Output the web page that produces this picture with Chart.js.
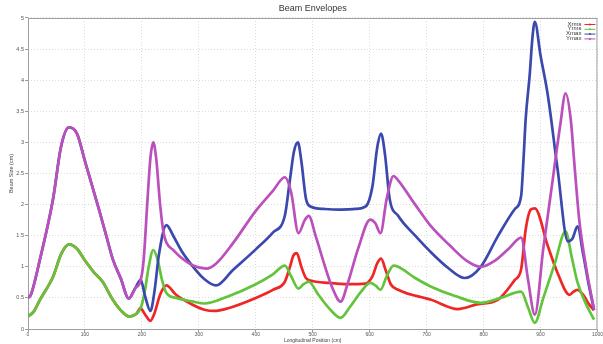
<!DOCTYPE html>
<html><head><meta charset="utf-8">
<script src="https://cdn.jsdelivr.net/npm/chart.js@4/dist/chart.umd.min.js"></script>
<style>html,body{margin:0;padding:0;background:#fff}#wrap{width:603px;height:344px}</style>
</head><body><div id="wrap"><canvas id="c" width="603" height="344"></canvas></div>
<script>
const seriesNames = ["Xrms", "Yrms", "Xmax", "Ymax"];
const xTicks = [0,100,200,300,400,500,600,700,800,900,1000];
const yTicks = [0,0.5,1,1.5,2,2.5,3,3.5,4,4.5,5];

const xrmsZ = [0,10,21,44,58,72,86,100,115,131,149,163,178,190,198,201,208,215,222,232,243,260,289,310,327,350,400,430,451,460,466,472,480,488,496,530,560,593,605,613,620,628,637,650,708,755,790,825,855,866,874,883,890,913,930,951,958,965,975,985,994];
const xrmsV = [0.2,0.28,0.47,0.84,1.2,1.36,1.29,1.1,0.92,0.76,0.47,0.3,0.2,0.24,0.34,0.3,0.2,0.13,0.25,0.55,0.7,0.55,0.39,0.31,0.29,0.33,0.5,0.63,0.76,1.0,1.18,1.22,1.0,0.82,0.78,0.74,0.72,0.73,0.85,1.05,1.13,0.95,0.72,0.63,0.47,0.32,0.4,0.47,0.79,0.96,1.6,1.92,1.94,1.33,0.9,0.55,0.6,0.63,0.55,0.4,0.3];

const yrmsZ = [0,10,21,44,58,72,86,100,115,131,149,163,178,190,198,205,212,220,228,235,243,260,290,310,350,400,430,451,462,475,484,493,510,530,549,565,585,601,610,619,630,642,650,680,708,750,795,830,866,878,890,905,925,944,955,965,980,994];
const yrmsV = [0.2,0.28,0.47,0.84,1.2,1.36,1.29,1.1,0.92,0.76,0.47,0.3,0.2,0.24,0.34,0.6,1.0,1.27,1.1,0.8,0.58,0.5,0.44,0.41,0.52,0.72,0.88,1.02,0.85,0.65,0.72,0.76,0.55,0.32,0.18,0.35,0.6,0.74,0.7,0.63,0.85,1.02,1.0,0.82,0.68,0.53,0.42,0.5,0.6,0.35,0.1,0.5,1.05,1.57,1.15,0.75,0.4,0.15];

const xmaxZ = [0,5,21,44,58,72,86,100,113,126,138,149,163,177,188,198,205,215,222,230,243,255,270,290,310,330,360,400,430,451,460,467,474,480,488,496,520,546,575,593,605,613,620,627,635,650,680,708,738,767,795,825,855,866,870,874,881,886,890,900,913,930,948,956,965,975,985,994];
const xmaxV = [0.5,0.55,1.12,2.09,2.93,3.24,3.14,2.7,2.29,1.88,1.48,1.12,0.81,0.49,0.65,0.79,0.55,0.29,0.6,1.2,1.67,1.5,1.25,1.0,0.8,0.7,0.95,1.28,1.55,1.82,2.4,2.85,3.0,2.7,2.1,1.97,1.93,1.92,1.93,1.97,2.3,2.9,3.14,2.8,2.1,1.82,1.5,1.23,0.98,0.82,1.0,1.49,1.93,2.14,2.7,3.38,4.08,4.7,4.94,4.4,3.75,2.57,1.41,1.45,1.65,1.2,0.7,0.31];

const ymaxZ = [0,5,21,44,58,72,86,100,113,126,138,149,163,177,188,198,203,210,215,220,225,232,238,243,255,266,290,313,330,360,400,430,451,462,475,486,493,505,520,535,549,562,580,601,610,619,630,642,650,680,708,740,770,795,820,845,866,878,890,905,920,935,944,953,960,968,980,994];
const ymaxV = [0.5,0.55,1.12,2.09,2.93,3.24,3.14,2.7,2.29,1.88,1.48,1.12,0.81,0.49,0.65,0.79,1.1,2.1,2.75,3.0,2.75,2.0,1.55,1.39,1.27,1.17,1.02,0.97,1.05,1.38,1.9,2.22,2.44,2.2,1.54,1.75,1.82,1.5,1.05,0.65,0.44,0.75,1.3,1.76,1.7,1.54,2.1,2.46,2.39,2.0,1.65,1.35,1.1,1.0,1.1,1.3,1.47,0.8,0.23,1.3,2.3,3.3,3.79,3.38,2.6,1.76,1.0,0.31];

const colors = ["#f02525", "#62c43a", "#3b48ae", "#bb4fbb"];
const allZ = [xrmsZ, yrmsZ, xmaxZ, ymaxZ];
const allV = [xrmsV, yrmsV, xmaxV, ymaxV];
const drawOrder = [4, 3, 2, 1];

const datasets = seriesNames.map((n, i) => ({
  label: n,
  data: allZ[i].map((z, k) => ({x: z, y: allV[i][k]})),
  borderColor: colors[i],
  backgroundColor: colors[i],
  borderWidth: 2.7,
  pointRadius: 0,
  fill: false,
  cubicInterpolationMode: 'monotone',
  order: drawOrder[i]
}));

const framePlugin = {
  id: 'frame',
  beforeDatasetsDraw(chart) {
    const {ctx, chartArea: a} = chart;
    ctx.save();
    ctx.strokeStyle = '#a0a0a0';
    ctx.lineWidth = 1;
    ctx.strokeRect(a.left + 0.5, a.top + 0.5, a.right - a.left - 1, a.bottom - a.top);
    ctx.restore();
  },
  afterDatasetsDraw(chart) {
    const {ctx, chartArea: a} = chart;
    ctx.save();
    ctx.font = '6px "Liberation Sans", Arial, sans-serif';
    ctx.textAlign = 'right';
    ctx.textBaseline = 'middle';
    seriesNames.forEach((n, i) => {
      const y = a.top + 6 + i * 4.8;
      ctx.fillStyle = '#333';
      ctx.fillText(n, a.right - 16, y);
      ctx.strokeStyle = colors[i];
      ctx.lineWidth = 1;
      ctx.beginPath();
      ctx.moveTo(a.right - 13, y + 0.5);
      ctx.lineTo(a.right - 2, y + 0.5);
      ctx.stroke();
      ctx.fillStyle = colors[i];
      ctx.beginPath();
      ctx.arc(a.right - 7.5, y + 0.5, 1, 0, Math.PI * 2);
      ctx.fill();
    });
    ctx.restore();
  }
};

const fontFam = '"Liberation Sans", Arial, sans-serif';

new Chart(document.getElementById('c'), {
  type: 'line',
  data: {datasets},
  options: {
    responsive: false,
    animation: false,
    layout: {padding: {left: 0, right: 3, top: 0, bottom: 0}},
    plugins: {
      legend: {display: false},
      tooltip: {enabled: false},
      title: {
        display: true,
        text: 'Beam Envelopes',
        fullSize: false,
        color: '#333',
        font: {family: fontFam, size: 9, weight: 'normal', lineHeight: 1.222},
        padding: {top: 3, bottom: 4}
      }
    },
    scales: {
      x: {
        type: 'linear',
        min: 0, max: 1000,
        afterBuildTicks(s) { s.ticks = xTicks.map(v => ({value: v})); },
        afterFit(s) { s.height = 15; },
        ticks: {font: {family: fontFam, size: 5}, color: '#555', padding: 0, maxRotation: 0, autoSkip: false, callback: v => String(v)},
        grid: {color: '#dcdcdc', tickLength: 3, tickColor: '#999', tickBorderDash: [], tickWidth: 1},
        border: {display: false, dash: [1, 2]},
        title: {display: true, text: 'Longitudinal Position (cm)', color: '#444', font: {family: fontFam, size: 5}, padding: {top: 0, bottom: 0}}
      },
      y: {
        type: 'linear',
        min: 0, max: 5,
        afterBuildTicks(s) { s.ticks = yTicks.map(v => ({value: v})); },
        afterFit(s) { s.width = 28; },
        ticks: {font: {family: fontFam, size: 5.5}, color: '#555', padding: 1, autoSkip: false, callback: v => String(v)},
        grid: {color: '#dcdcdc', tickLength: 3, tickColor: '#999', tickBorderDash: [], tickWidth: 1},
        border: {display: false, dash: [1, 2]},
        title: {display: true, text: 'Beam Size (cm)', color: '#444', font: {family: fontFam, size: 5.5}, padding: {top: 8, bottom: 0}}
      }
    }
  },
  plugins: [framePlugin]
});
</script></body></html>
